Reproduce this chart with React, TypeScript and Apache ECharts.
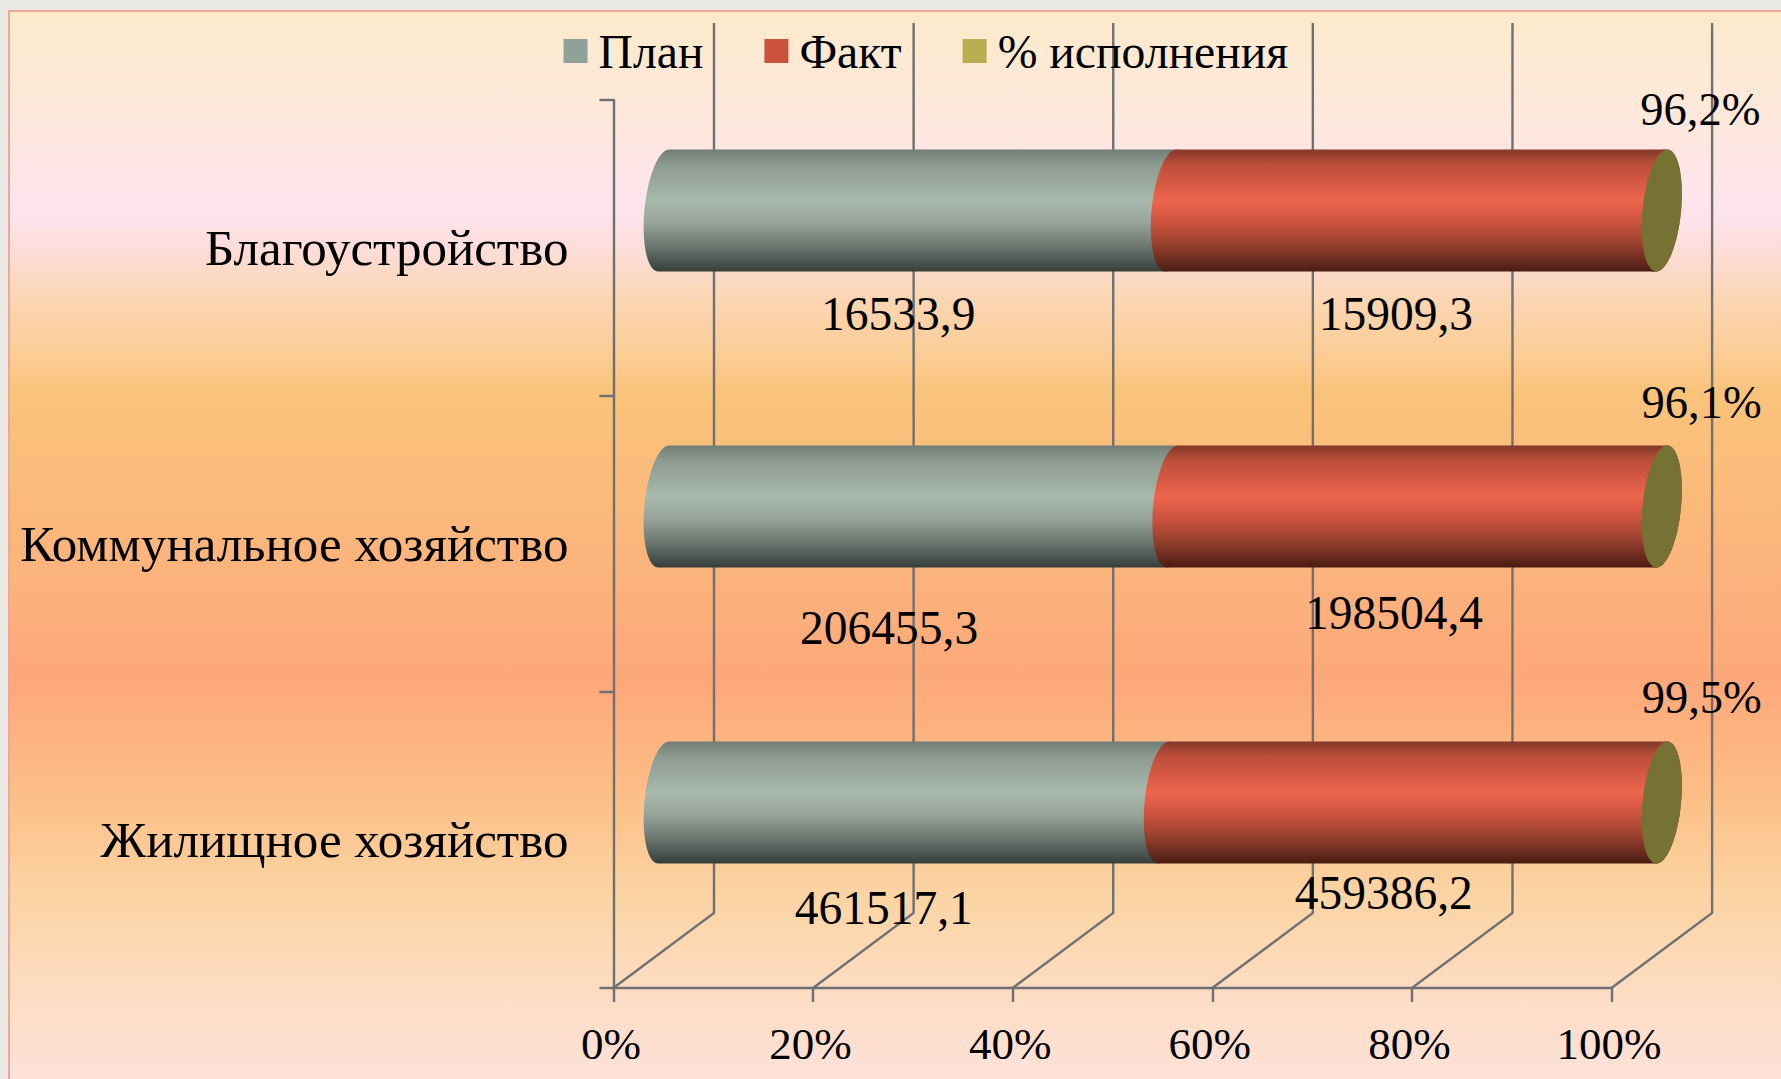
import React, { useEffect, useRef } from "react";
import * as echarts from "echarts";

const categories = ["Жилищное хозяйство", "Коммунальное хозяйство", "Благоустройство"];
const planValues = [461517.1, 206455.3, 16533.9];
const factValues = [459386.2, 198504.4, 15909.3];
const percentValues = [99.5, 96.1, 96.2];
const xTicks = [0, 20, 40, 60, 80, 100];

const FONT = '"Liberation Serif", "Times New Roman", serif';
const FS_AXIS = 45;
const FS_CAT = 51;
const FS_LEGEND = 47.7;
const FS_VALUE = 47.5;
const FS_PCT = 46.5;
const DEPTH_X = 100.6;
const DEPTH_Y = 75;
const TOP_Y = 23;
const BAR_H = 122;
const CAP_RX = 19.3;
const CAP_SHEAR = 5.5;
const LINE = "#707072";
const LINE_W = 2.4;

const planOffsets = [[-30, 105], [-29, 121], [-19, 103]];
const factOffsets = [[-29, 90], [-23, 106], [-19, 103]];
const pctOffsets = [[40, -105], [40, -104], [40, -101]];

const shares = categories.map((_, i) => {
  const total = planValues[i] + factValues[i] + percentValues[i];
  const a = (planValues[i] / total) * 100;
  const b = ((planValues[i] + factValues[i]) / total) * 100;
  return [a, b];
});

const capPoint = (c: number, yc: number, t: number) => [
  c + CAP_RX * Math.cos(t) - CAP_SHEAR * Math.sin(t),
  yc + (BAR_H / 2) * Math.sin(t),
];

const bodyPoints = (c0: number, c1: number, yc: number) => {
  const pts: number[][] = [];
  const N = 40;
  for (let k = 0; k <= N; k++) pts.push(capPoint(c0, yc, Math.PI / 2 + (Math.PI * k) / N));
  for (let k = 0; k <= N; k++) pts.push(capPoint(c1, yc, -Math.PI / 2 + (Math.PI * k) / N));
  return pts;
};

const vGrad = (stops: [number, string][]) =>
  new echarts.graphic.LinearGradient(0, 0, 0, 1, stops.map(([offset, color]) => ({ offset, color })));

const planFill = () =>
  vGrad([
    [0, "#707d76"],
    [0.12, "#8c9a91"],
    [0.42, "#a9b8ad"],
    [0.6, "#96a49a"],
    [0.8, "#69756e"],
    [1, "#363e3a"],
  ]);
const factFill = () =>
  vGrad([
    [0, "#83392a"],
    [0.12, "#bc4e3a"],
    [0.42, "#ee644d"],
    [0.6, "#cc533f"],
    [0.8, "#8f3d2c"],
    [1, "#4a1b12"],
  ]);

const segmentSeries = (
  name: string,
  color: string,
  data: number[][],
  fill: () => any,
  texts: string[],
  offsets: number[][],
  isCap: boolean
) => ({
  type: "custom",
  name,
  z: 3,
  itemStyle: { color },
  encode: { x: [1, 2], y: 0 },
  data,
  renderItem: (_params: any, api: any) => {
    const row = api.value(0);
    const p0 = api.coord([api.value(1), row]);
    const p1 = api.coord([api.value(2), row]);
    const yc = p0[1] - DEPTH_Y / 2;
    const c0 = p0[0] + DEPTH_X / 2;
    const c1 = p1[0] + DEPTH_X / 2;
    const children: any[] = [
      {
        type: "polygon",
        shape: { points: bodyPoints(c0, c1, yc) },
        style: { fill: fill() },
      },
    ];
    if (isCap) {
      const pts: number[][] = [];
      for (let k = 0; k < 80; k++) pts.push(capPoint(c1, yc, (2 * Math.PI * k) / 80));
      children.push({ type: "polygon", shape: { points: pts }, style: { fill: "#767233" } });
    }
    const off = offsets[row];
    children.push({
      type: "text",
      style: {
        x: (c0 + c1) / 2 + off[0],
        y: yc + off[1],
        text: texts[row],
        align: "center",
        verticalAlign: "middle",
        fill: "#000",
        fontFamily: FONT,
        fontSize: isCap ? FS_PCT : FS_VALUE,
      },
    });
    return { type: "group", children };
  },
});

export default function App() {
  const ref = useRef<HTMLDivElement>(null);
  useEffect(() => {
    const chart = echarts.init(ref.current!, null, { renderer: "svg" });
    chart.setOption({
      animation: false,
      backgroundColor: "#e9e8e5",
      graphic: [
        {
          type: "rect",
          z: -10,
          silent: true,
          shape: { x: 9, y: 11, width: 1790, height: 1080 },
          style: {
            stroke: "#eea898",
            lineWidth: 2,
            fill: vGrad([
              [0, "#fceacb"],
              [0.1, "#fde8dc"],
              [0.19, "#fee3ef"],
              [0.225, "#fddcd5"],
              [0.268, "#fbd6b3"],
              [0.32, "#fbcc94"],
              [0.353, "#fac37a"],
              [0.5, "#fbb57c"],
              [0.62, "#fda87a"],
              [0.72, "#fcbd85"],
              [0.818, "#fbd4a3"],
              [0.9, "#fddcc0"],
              [1, "#fee2dc"],
            ]),
          },
        },
      ],
      legend: {
        data: ["План", "Факт", "% исполнения"],
        left: 558.5,
        top: 22,
        icon: "rect",
        itemWidth: 24,
        itemHeight: 24,
        itemGap: 61,
        selectedMode: false,
        textStyle: { color: "#000", fontFamily: FONT, fontSize: FS_LEGEND, padding: [0, 0, 0, 6] },
      },
      grid: { left: 613.4, right: 1781 - 1611.5, top: 100, bottom: 1079 - 988, containLabel: false },
      xAxis: {
        type: "value",
        min: 0,
        max: 100,
        interval: 20,
        axisLine: { show: true, lineStyle: { color: LINE, width: LINE_W } },
        axisTick: { show: true, length: 14, lineStyle: { color: LINE, width: LINE_W } },
        splitLine: { show: false },
        axisLabel: {
          formatter: "{value}%",
          margin: 33,
          padding: [0, 5, 0, 0],
          color: "#000",
          fontFamily: FONT,
          fontSize: FS_AXIS,
        },
      },
      yAxis: {
        type: "category",
        data: categories,
        axisLine: { show: true, lineStyle: { color: LINE, width: LINE_W } },
        axisTick: { show: true, length: 14, lineStyle: { color: LINE, width: LINE_W } },
        splitLine: { show: false },
        axisLabel: {
          margin: 45,
          color: "#000",
          fontFamily: FONT,
          fontSize: FS_CAT,
        },
      },
      series: [
        {
          type: "custom",
          name: "grid",
          z: 1,
          silent: true,
          encode: { x: 0 },
          data: xTicks.map((t) => [t]),
          renderItem: (params: any, api: any) => {
            const x = api.coord([api.value(0), 0])[0];
            const bottom = params.coordSys.y + params.coordSys.height;
            return {
              type: "polyline",
              shape: {
                points: [
                  [x, bottom],
                  [x + DEPTH_X, bottom - DEPTH_Y],
                  [x + DEPTH_X, TOP_Y],
                ],
              },
              style: { stroke: LINE, lineWidth: LINE_W, fill: "none" },
            };
          },
        },
        segmentSeries(
          "План",
          "#8fa298",
          categories.map((_, i) => [i, 0, shares[i][0]]),
          planFill,
          planValues.map((v) => String(v).replace(".", ",")),
          planOffsets,
          false
        ),
        segmentSeries(
          "Факт",
          "#cb533c",
          categories.map((_, i) => [i, shares[i][0], shares[i][1]]),
          factFill,
          factValues.map((v) => String(v).replace(".", ",")),
          factOffsets,
          false
        ),
        segmentSeries(
          "% исполнения",
          "#b7ae4f",
          categories.map((_, i) => [i, shares[i][1], 100]),
          factFill,
          percentValues.map((v) => String(v).replace(".", ",") + "%"),
          pctOffsets,
          true
        ),
      ],
    });
    return () => chart.dispose();
  }, []);
  return <div ref={ref} style={{ position: "fixed", left: 0, top: 0, width: 1781, height: 1079 }} />;
}
